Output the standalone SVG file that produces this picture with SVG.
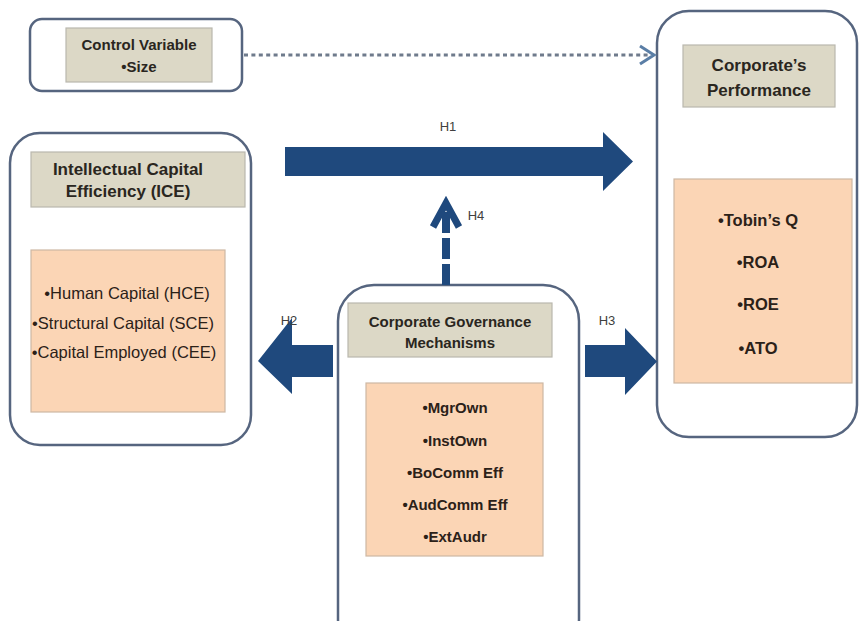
<svg xmlns="http://www.w3.org/2000/svg" width="861" height="621" viewBox="0 0 861 621">
  <style>
    .frame { fill: #ffffff; stroke: #56657f; stroke-width: 2.5; }
    .head { fill: #dcd8c6; stroke: #b9b8ae; stroke-width: 1.2; }
    .list { fill: #fbd5b5; stroke: #cdb8a4; stroke-width: 1.2; }
    .ht { font-family: "Liberation Sans", Arial, sans-serif; font-weight: bold; fill: #2a2620; text-anchor: middle; }
    .li { font-family: "Liberation Sans", Arial, sans-serif; fill: #2b2118; text-anchor: middle; }
    .lb { font-family: "Liberation Sans", Arial, sans-serif; fill: #404040; font-size: 13px; text-anchor: middle; }
    .navy { fill: #1f497d; }
  </style>

  <!-- Control variable -->
  <g id="control-variable">
    <rect class="frame" x="30" y="19" width="212" height="72" rx="12"/>
    <rect class="head" x="66" y="28" width="146" height="54"/>
    <text class="ht" x="139" y="50" font-size="15">Control Variable</text>
    <text class="ht" x="139" y="72" font-size="15">•Size</text>
  </g>

  <!-- Corporate's performance -->
  <g id="corporate-performance">
    <rect class="frame" x="657" y="11" width="200" height="426" rx="32"/>
    <rect class="head" x="683" y="45" width="152" height="62"/>
    <text class="ht" x="759" y="71" font-size="17">Corporate’s</text>
    <text class="ht" x="759" y="96" font-size="17">Performance</text>
    <rect class="list" x="674" y="179" width="178" height="204"/>
    <text class="li" x="758" y="226" font-weight="bold" font-size="16.5">•Tobin’s Q</text>
    <text class="li" x="758" y="268" font-weight="bold" font-size="16.5">•ROA</text>
    <text class="li" x="758" y="310" font-weight="bold" font-size="16.5">•ROE</text>
    <text class="li" x="758" y="354" font-weight="bold" font-size="16.5">•ATO</text>
  </g>

  <!-- Intellectual capital efficiency -->
  <g id="ice">
    <rect class="frame" x="10" y="133" width="241" height="312" rx="30"/>
    <rect class="head" x="31" y="152" width="214" height="55"/>
    <text class="ht" x="128" y="175" font-size="17">Intellectual Capital</text>
    <text class="ht" x="128" y="197" font-size="17">Efficiency (ICE)</text>
    <rect class="list" x="31" y="250" width="194" height="162"/>
    <text class="li" x="127" y="299" font-size="16.5">•Human Capital (HCE)</text>
    <text class="li" x="123" y="329" font-size="16.5">•Structural Capital (SCE)</text>
    <text class="li" x="124" y="358" font-size="16.5">•Capital Employed (CEE)</text>
  </g>

  <!-- Corporate governance mechanisms -->
  <g id="cgm">
    <rect class="frame" x="338" y="285" width="241" height="370" rx="36"/>
    <rect class="head" x="348" y="303" width="204" height="54"/>
    <text class="ht" x="450" y="327" font-size="15">Corporate Governance</text>
    <text class="ht" x="450" y="348" font-size="15">Mechanisms</text>
    <rect class="list" x="366" y="383" width="177" height="173"/>
    <text class="li" x="455" y="413" font-weight="bold" font-size="15">•MgrOwn</text>
    <text class="li" x="455" y="446" font-weight="bold" font-size="15">•InstOwn</text>
    <text class="li" x="455" y="478" font-weight="bold" font-size="15">•BoComm Eff</text>
    <text class="li" x="455" y="510" font-weight="bold" font-size="15">•AudComm Eff</text>
    <text class="li" x="455" y="542" font-weight="bold" font-size="15">•ExtAudr</text>
  </g>

  <!-- Connectors -->
  <g id="connectors">
    <!-- control variable, dotted -->
    <line x1="244" y1="55" x2="650" y2="55" stroke="#6f7b8c" stroke-width="3" stroke-dasharray="4 3.4"/>
    <polyline points="640,46 654,55 640,64" fill="none" stroke="#5a7ea6" stroke-width="3" stroke-linejoin="miter"/>

    <!-- H1 -->
    <polygon class="navy" points="285,147 603,147 603,132 633,161.5 603,191 603,176 285,176"/>
    <text class="lb" x="448" y="131">H1</text>

    <!-- H4, dashed -->
    <line x1="446" y1="285" x2="446" y2="210" stroke="#1f497d" stroke-width="8" stroke-dasharray="21 5"/>
    <polyline points="433,227 446,203 459,227" fill="none" stroke="#1f497d" stroke-width="7" stroke-linejoin="miter" stroke-miterlimit="10"/>
    <text class="lb" x="476" y="220">H4</text>

    <!-- H2 -->
    <polygon class="navy" points="333,345 292,345 292,318 258,361 292,394 292,377 333,377"/>
    <text class="lb" x="289" y="325">H2</text>

    <!-- H3 -->
    <polygon class="navy" points="585,345 625,345 625,328 657,361.5 625,395 625,377 585,377"/>
    <text class="lb" x="607" y="325">H3</text>
  </g>
</svg>
